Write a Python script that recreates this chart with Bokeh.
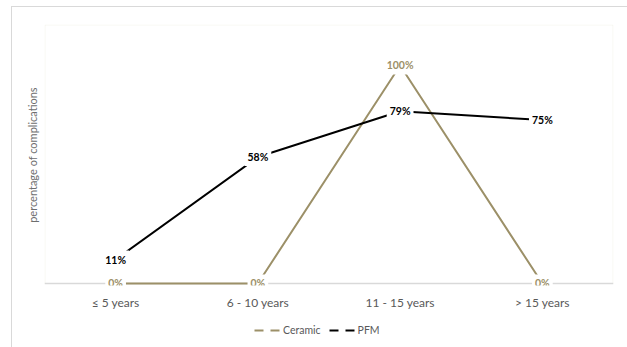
from bokeh.plotting import figure
from bokeh.layouts import column
from bokeh.models import (ColumnDataSource, Legend, LegendItem, Range1d,
                          Span, BoxAnnotation)
from bokeh.core.properties import value
from bokeh.embed import file_html
from bokeh.resources import INLINE

# Complication rates by years in service
periods = ["≤ 5 years", "6 - 10 years", "11 - 15 years", "> 15 years"]
ceramic = [0.00, 0.00, 1.00, 0.00]
pfm = [0.11, 0.58, 0.79, 0.75]
ceramic_labels = ["0%", "0%", "100%", "0%"]
pfm_labels = ["11%", "58%", "79%", "75%"]
series_names = ["Ceramic", "PFM"]

CERAMIC_COLOR = "#9C9068"
CERAMIC_TEXT = "#9C9068"
PFM_COLOR = "#000000"
TEXT_GRAY = "#595959"
FONT = "Lato"

W = 627
H_MAIN, H_LEG = 320, 27
FL, FR, FT, FB = 44, 613, 24, 285
FW, FH = FR - FL, FB - FT


def border_css(top_line):
    """Thin chart border at x=11 (and y=6 on the top piece), drawn behind a transparent canvas."""
    imgs = ["linear-gradient(#D9D9D9, #D9D9D9)"]
    sizes = ["1px 400px"]
    pos = ["11px 6px" if top_line else "11px 0px"]
    if top_line:
        imgs.append("linear-gradient(#D9D9D9, #D9D9D9)")
        sizes.append("700px 1px")
        pos.append("11px 6px")
    return {"background-color": "white",
            "background-image": ", ".join(imgs),
            "background-size": ", ".join(sizes),
            "background-position": ", ".join(pos),
            "background-repeat": "no-repeat"}


p = figure(x_range=periods, y_range=Range1d(-0.0092, 1.188),
           width=W, height=H_MAIN, output_backend="svg", toolbar_location=None,
           min_border_left=FL, min_border_right=W - FR,
           min_border_top=FT, min_border_bottom=H_MAIN - FB,
           styles=border_css(True))
p.outline_line_color = None
p.xgrid.visible = False
p.ygrid.visible = False
p.background_fill_color = "white"
p.border_fill_alpha = 0

# plot-area box (frame-relative screen units, y measured up from the bottom)
p.add_layout(BoxAnnotation(left=0.5, right=FW - 0.5, top=FH - 0.5, bottom=2,
                           left_units="screen", right_units="screen",
                           top_units="screen", bottom_units="screen",
                           fill_alpha=0, line_color="#E6E0CC", line_width=1,
                           level="underlay"))
p.add_layout(Span(location=0, dimension="width", line_color="#D9D9D9",
                  line_width=1.5, level="underlay"))

src = ColumnDataSource(dict(x=periods, ceramic=ceramic, pfm=pfm,
                            cl=ceramic_labels, pl=pfm_labels))

p.line("x", "ceramic", source=src, line_color=CERAMIC_COLOR, line_width=2)
p.line("x", "pfm", source=src, line_color=PFM_COLOR, line_width=2)

# value labels with a white box that breaks the line around them
for col, lab, color in (("ceramic", "cl", CERAMIC_TEXT), ("pfm", "pl", PFM_COLOR)):
    p.text(x="x", y=col, text=lab, source=src,
           text_align="center", text_baseline="middle",
           text_font=value(FONT), text_font_size="10.5px",
           text_font_style="bold", text_color=color,
           background_fill_color="white", padding=3)

# axes
xa = p.xaxis[0]
xa.axis_line_color = None
xa.major_tick_line_color = None
xa.minor_tick_line_color = None
xa.major_label_text_font = FONT
xa.major_label_text_font_size = "12px"
xa.major_label_text_color = TEXT_GRAY
xa.major_label_standoff = 3

ya = p.yaxis[0]
ya.axis_line_color = None
ya.major_tick_line_color = None
ya.minor_tick_line_color = None
ya.major_label_text_font_size = "0px"
ya.axis_label = "percentage of complications"
ya.axis_label_text_font = FONT
ya.axis_label_text_font_size = "11px"
ya.axis_label_text_font_style = "normal"
ya.axis_label_text_color = "#6E6E6E"
ya.axis_label_standoff = 0

# legend strip underneath the chart; the series lines sit outside its view,
# only their legend swatches show
leg = figure(x_range=periods, y_range=Range1d(5, 6),
             x_axis_type=None, y_axis_type=None,
             width=W, height=H_LEG, output_backend="svg", toolbar_location=None,
             min_border=0, styles=border_css(False))
leg.grid.visible = False
leg.outline_line_color = None
leg.background_fill_alpha = 0
leg.border_fill_alpha = 0

lc = leg.line("x", "ceramic", source=src, line_color=CERAMIC_COLOR,
              line_width=2, line_dash="9 7")
lp = leg.line("x", "pfm", source=src, line_color=PFM_COLOR,
              line_width=2, line_dash="9 7")
legend = Legend(items=[LegendItem(label=series_names[0], renderers=[lc]),
                       LegendItem(label=series_names[1], renderers=[lp])],
                orientation="horizontal", location=(210, 11),
                glyph_width=26, glyph_height=12, label_standoff=3,
                spacing=8, padding=0, margin=0,
                border_line_color=None, background_fill_alpha=0,
                label_text_font=FONT, label_text_font_size="10.5px",
                label_text_color=TEXT_GRAY, label_height=12)
leg.add_layout(legend)

open("out.html", "w").write(file_html(column(p, leg, spacing=0), INLINE))
